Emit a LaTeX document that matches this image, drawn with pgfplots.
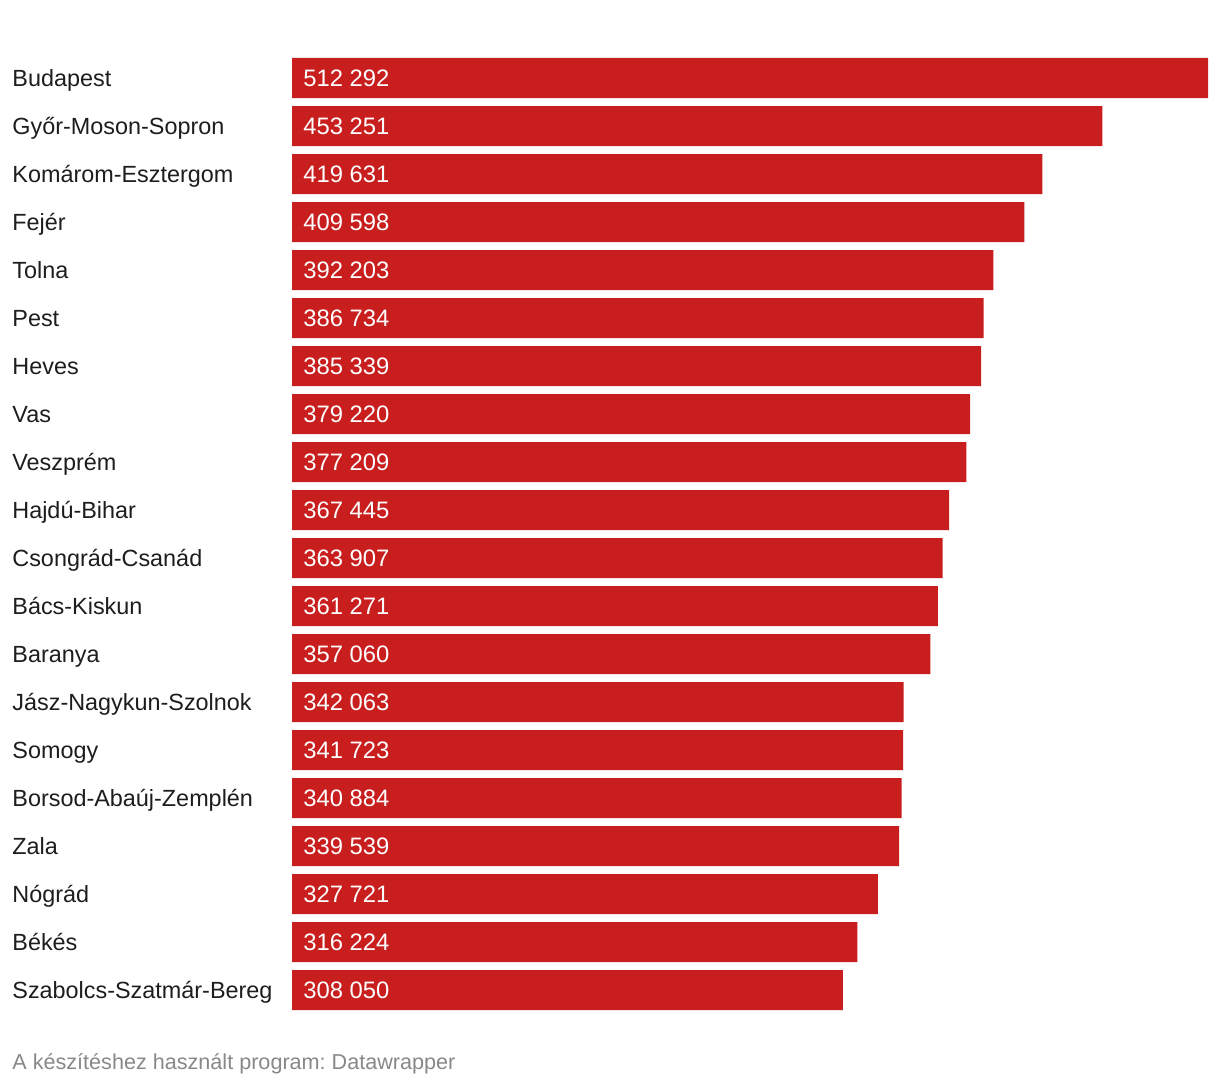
\documentclass[border=0pt]{standalone}
\usepackage{pgfplots}
\pgfplotsset{compat=1.18}
\usepackage{pgfplotstable}
\usepackage{fontspec}
\setmainfont{Liberation Sans}
\frenchspacing
\definecolor{barred}{HTML}{C81E1E}
\definecolor{txt}{HTML}{1D1D1D}
\definecolor{foot}{HTML}{888888}
\pgfplotstableread{
y x label
0 512292 512~292
1 453251 453~251
2 419631 419~631
3 409598 409~598
4 392203 392~203
5 386734 386~734
6 385339 385~339
7 379220 379~220
8 377209 377~209
9 367445 367~445
10 363907 363~907
11 361271 361~271
12 357060 357~060
13 342063 342~063
14 341723 341~723
15 340884 340~884
16 339539 339~539
17 327721 327~721
18 316224 316~224
19 308050 308~050
}\data
\begin{document}
\begin{tikzpicture}
\path[use as bounding box] (0,0) rectangle (610pt,543pt);
\begin{axis}[
  at={(146pt,36pt)}, anchor=south west,
  scale only axis, width=458pt, height=480pt,
  xmin=0, xmax=512292,
  ymin=-0.5, ymax=19.5, y dir=reverse,
  axis line style={draw=none},
  xtick=\empty,
  ytick={0,...,19},
  yticklabels={Budapest,Győr-Moson-Sopron,Komárom-Esztergom,Fejér,Tolna,Pest,Heves,Vas,Veszprém,Hajdú-Bihar,Csongrád-Csanád,Bács-Kiskun,Baranya,Jász-Nagykun-Szolnok,Somogy,Borsod-Abaúj-Zemplén,Zala,Nógrád,Békés,Szabolcs-Szatmár-Bereg},
  major tick length=0pt,
  yticklabel style={anchor=base west, inner sep=0pt, xshift=-140pt, yshift=-4.2pt, text=txt, font=\fontsize{11.7}{13}\selectfont},
  clip=false,
]
\addplot[xbar, bar width=20pt, fill=barred, draw=none] table[x=x, y=y] {\data};
\addplot[draw=none, mark=none, nodes near coords, point meta=explicit symbolic,
  every node near coord/.style={anchor=base west, inner sep=0pt, xshift=5.5pt, yshift=-4.2pt, text=white, font=\fontsize{11.9}{13}\selectfont}]
  table[x expr=0, y=y, meta=label] {\data};
\end{axis}
\node[anchor=base west, inner sep=0pt, text=foot, font=\fontsize{10.8}{12}\selectfont] at (6pt,8pt) {A készítéshez használt program: Datawrapper};
\end{tikzpicture}
\end{document}
